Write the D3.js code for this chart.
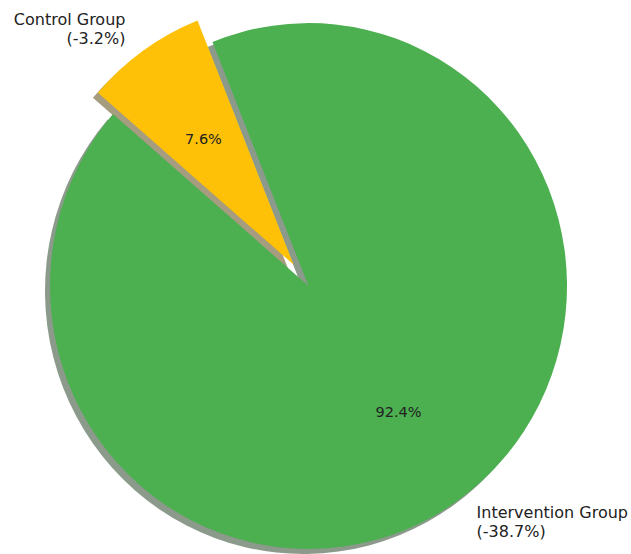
<!DOCTYPE html>
<html>
<head>
<meta charset="utf-8">
<script src="https://cdn.jsdelivr.net/npm/d3@7"></script>
<style>
	body { margin: 0; background: #fff; }
	text { font-family: "DejaVu Sans", sans-serif; }
</style>
</head>
<body>
<svg id="chart" width="631" height="554"></svg>
<script>
// values
var groups = ["Control Group", "Intervention Group"];
var shares = [7.6, 92.4];
var changes = ["(-3.2%)", "(-38.7%)"];
var explode = [0.1, 0];
var colors = ["#FFC107", "#4CAF50"];

var width = 631, height = 554;
var cx = 308.5, cy = 286;
var radius = 258.5;
var sy = 1.017;          // the picture is a touch taller than wide
var start = -21.8 * Math.PI / 180;

var svg = d3.select("#chart");

/*
 * counter-clockwise pie, first slice starts a bit left of 12 o'clock
 */
var pie = d3.pie()
	.sort(null)
	.value(function(d) { return d; })
	.startAngle(start)
	.endAngle(start - 2 * Math.PI);

var arcs = pie(shares);

var arc = d3.arc()
	.innerRadius(0)
	.outerRadius(radius);

function dir(d) {
	var a = (d.startAngle + d.endAngle) / 2;
	return [Math.sin(a), -Math.cos(a)];
}

var group = svg.append("g")
	.attr("transform", "translate(" + cx + "," + cy + ") scale(1," + sy + ")");

// shadows first, under every wedge
group.selectAll(".shadow")
	.data(arcs)
	.enter()
		.append("path")
			.attr("class", "shadow")
			.attr("d", arc)
			.attr("fill", function(d, i) {
				var c = d3.rgb(colors[i]);
				return d3.rgb(c.r * 0.3, c.g * 0.3, c.b * 0.3);
			})
			.attr("fill-opacity", 0.5)
			.attr("transform", function(d, i) {
				var v = dir(d), off = explode[i] * radius;
				return "translate(" + (v[0] * off - 5) + "," + (v[1] * off + 5) + ")";
			});

group.selectAll(".wedge")
	.data(arcs)
	.enter()
		.append("path")
			.attr("class", "wedge")
			.attr("d", arc)
			.attr("fill", function(d, i) { return colors[i]; })
			.attr("transform", function(d, i) {
				var v = dir(d), off = explode[i] * radius;
				return "translate(" + (v[0] * off) + "," + (v[1] * off) + ")";
			});

// percentage inside each wedge
svg.selectAll(".pct")
	.data(arcs)
	.enter()
		.append("text")
			.attr("class", "pct")
			.attr("x", function(d, i) {
				return cx + dir(d)[0] * radius * (0.6 + explode[i]);
			})
			.attr("y", function(d, i) {
				return cy + dir(d)[1] * radius * (0.6 + explode[i]);
			})
			.attr("dy", "0.35em")
			.attr("text-anchor", "middle")
			.attr("font-size", 14.5)
			.attr("fill", "#222")
			.text(function(d, i) { return shares[i].toFixed(1) + "%"; });

// outer labels
var lineH = 19;
var labels = svg.selectAll(".label")
	.data(arcs)
	.enter()
		.append("text")
			.attr("class", "label")
			.attr("font-size", 16)
			.attr("fill", "#222")
			.attr("text-anchor", function(d) {
				return dir(d)[0] < 0 ? "end" : "start";
			});

labels.each(function(d, i) {
	var v = dir(d);
	var dist = radius * (1.12 + explode[i]);
	var x = cx + v[0] * dist;
	var y = cy + v[1] * dist;
	var t = d3.select(this);
	t.append("tspan")
		.attr("x", x)
		.attr("y", y - lineH / 2)
		.attr("dy", "0.35em")
		.text(groups[i]);
	t.append("tspan")
		.attr("x", x)
		.attr("y", y + lineH / 2)
		.attr("dy", "0.35em")
		.text(changes[i]);
});
</script>
</body>
</html>
